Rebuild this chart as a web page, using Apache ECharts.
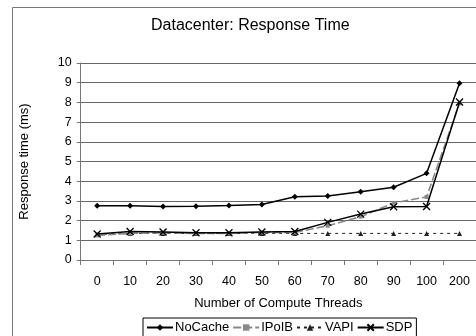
<!DOCTYPE html>
<html>
<head>
<meta charset="utf-8">
<script src="https://cdn.jsdelivr.net/npm/echarts@6/dist/echarts.min.js"></script>
<style>
  html, body { margin: 0; padding: 0; background: #fff; }
  #chart { width: 476px; height: 336px; }
</style>
</head>
<body>
<div id="chart"></div>
<script>
// Response time (ms) per number of compute threads
const threads = ['0', '10', '20', '30', '40', '50', '60', '70', '80', '90', '100', '200'];
const noCache = [2.75, 2.75, 2.72, 2.73, 2.77, 2.82, 3.21, 3.25, 3.47, 3.69, 4.4, 8.97];
const ipoib   = [1.25, 1.35, 1.38, 1.35, 1.35, 1.4, 1.4, 1.74, 2.2, 2.9, 3.2, 7.95];
const vapi    = [1.3, 1.35, 1.35, 1.35, 1.35, 1.35, 1.35, 1.35, 1.35, 1.35, 1.35, 1.35];
const sdp     = [1.32, 1.45, 1.42, 1.38, 1.38, 1.42, 1.45, 1.91, 2.33, 2.7, 2.72, 8.02];
const yTicks  = { min: 0, max: 10, interval: 1 };

const FONT = 'Liberation Sans, Arial, sans-serif';
const crossSymbol = 'path://M0,0L10,10M10,0L0,10';

const chart = echarts.init(document.getElementById('chart'), null, { renderer: 'canvas' });

chart.setOption({
  animation: false,
  backgroundColor: '#fff',
  title: {
    text: 'Datacenter: Response Time',
    left: 146,
    top: 13,
    textStyle: { fontFamily: FONT, fontSize: 16, fontWeight: 'normal', color: '#000' }
  },
  graphic: [{
    type: 'rect',
    shape: { x: 12.5, y: 7.5, width: 600, height: 500 },
    style: { fill: 'none', stroke: '#777', lineWidth: 1 },
    silent: true,
    z: -1
  }],
  grid: { left: 80.7, right: -4.7, top: 63, bottom: 76 },
  legend: {
    top: 318,
    left: 143,
    itemGap: 3,
    itemWidth: 26,
    itemHeight: 8,
    padding: [3, 4, 6, 3],
    borderColor: '#000',
    borderWidth: 1,
    borderRadius: 0,
    textStyle: { fontFamily: FONT, fontSize: 13, color: '#000', padding: [0, 0, 0, -3] },
    data: ['NoCache', 'IPoIB', 'VAPI', 'SDP']
  },
  xAxis: {
    type: 'category',
    data: threads,
    boundaryGap: true,
    name: 'Number of Compute Threads',
    nameLocation: 'middle',
    nameGap: 37,
    nameTextStyle: { fontFamily: FONT, fontSize: 13, color: '#000' },
    axisLine: { lineStyle: { color: '#777', width: 1 } },
    axisTick: { show: true, length: 5, alignWithLabel: false, lineStyle: { color: '#777' } },
    axisLabel: { fontFamily: FONT, fontSize: 12.5, color: '#000', margin: 15 },
    splitLine: { show: false }
  },
  yAxis: {
    type: 'value',
    min: yTicks.min,
    max: yTicks.max,
    interval: yTicks.interval,
    name: 'Response time (ms)',
    nameLocation: 'middle',
    nameGap: 50,
    nameRotate: 90,
    nameTextStyle: { fontFamily: FONT, fontSize: 13, color: '#000' },
    axisLine: { show: true, lineStyle: { color: '#777', width: 1 } },
    axisTick: { show: true, length: 4, inside: false, lineStyle: { color: '#777' } },
    axisLabel: { fontFamily: FONT, fontSize: 12.5, color: '#000', margin: 9 },
    splitLine: { show: true, lineStyle: { color: '#666', width: 1 } }
  },
  series: [
    {
      name: 'NoCache',
      type: 'line',
      data: noCache,
      symbol: 'diamond',
      symbolSize: 6,
      itemStyle: { color: '#000' },
      lineStyle: { color: '#000', width: 1.5 },
      z: 5
    },
    {
      name: 'IPoIB',
      type: 'line',
      data: ipoib,
      symbol: 'rect',
      symbolSize: 4,
      itemStyle: { color: '#888' },
      lineStyle: { color: '#888', width: 1.6, type: [8, 3] },
      z: 3
    },
    {
      name: 'VAPI',
      type: 'line',
      data: vapi,
      symbol: 'triangle',
      symbolSize: 5,
      itemStyle: { color: '#222' },
      lineStyle: { color: '#222', width: 1, type: [3, 4] },
      z: 2
    },
    {
      name: 'SDP',
      type: 'line',
      data: sdp,
      symbol: crossSymbol,
      symbolSize: 7,
      itemStyle: { color: '#000', borderColor: '#000', borderWidth: 1.3 },
      lineStyle: { color: '#000', width: 1.5 },
      z: 4
    }
  ]
});
</script>
</body>
</html>
